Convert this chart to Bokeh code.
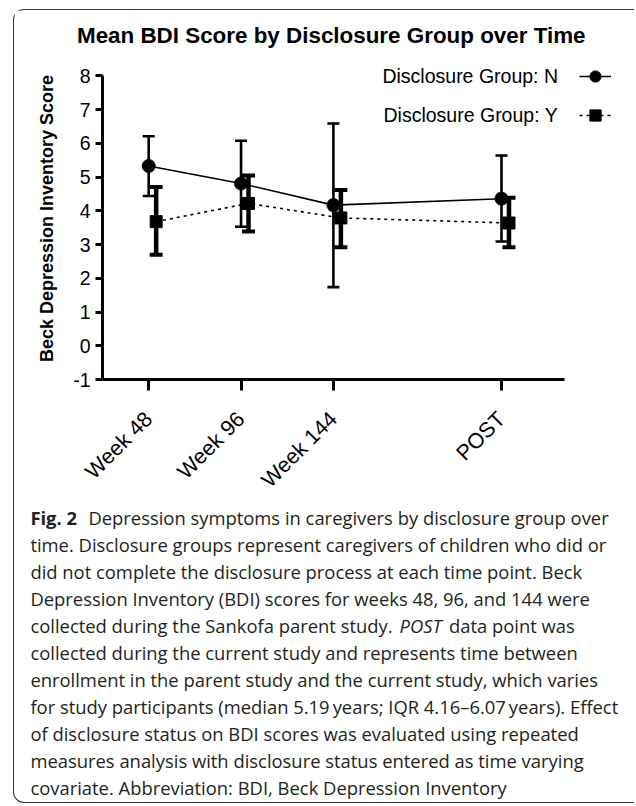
import math
from bokeh.plotting import figure
from bokeh.layouts import column
from bokeh.models import (ColumnDataSource, Whisker, TeeHead, Label, Legend, LegendItem,
                          FixedTicker, Range1d)
from bokeh.embed import file_html
from bokeh.resources import INLINE
from bokeh.core.properties import value

# ---------------- data ----------------
categories = ["Week 48", "Week 96", "Week 144", "POST"]
n_mean = [5.33, 4.81, 4.17, 4.36]
n_upper = [6.21, 6.08, 6.59, 5.64]
n_lower = [4.44, 3.53, 1.74, 3.09]
y_mean = [3.68, 4.22, 3.79, 3.64]
y_upper = [4.71, 5.05, 4.62, 4.39]
y_lower = [2.70, 3.39, 2.92, 2.92]
y_ticks = [-1, 0, 1, 2, 3, 4, 5, 6, 7, 8]

title_text = "Mean BDI Score by Disclosure Group over Time"
y_label = "Beck Depression Inventory Score"
legend_labels = ["Disclosure Group: N", "Disclosure Group: Y"]

# ---------------- layout constants ----------------
cat_pos = [1.0, 2.0, 3.0, 4.82]      # POST placed after a wider gap
y_shift = 0.081                       # group Y drawn slightly right of group N
FONT = "Liberation Sans"

n_x = list(cat_pos)
y_x = [c + y_shift for c in cat_pos]

src_n = ColumnDataSource(dict(x=n_x, m=n_mean, up=n_upper, lo=n_lower))
src_y = ColumnDataSource(dict(x=y_x, m=y_mean, up=y_upper, lo=y_lower))

CW = 620             # content width inside the rounded frame
H1 = 509             # chart part
OVERLAP = 30         # caption canvas slides up under the rotated tick labels
H2 = 792 - H1 + OVERLAP

p = figure(width=CW, height=H1, output_backend="svg", toolbar_location=None,
           x_range=Range1d(0.5, 6.26), y_range=Range1d(-1, 8.546),
           min_border_left=88, min_border_right=0, min_border_top=45, min_border_bottom=H1 - 369)
p.outline_line_color = None
p.grid.visible = False
p.background_fill_color = "white"
p.border_fill_color = "white"

# title
p.title.text = title_text
p.title.align = "left"
p.title.offset = -25.5
p.title.standoff = 20
p.title.text_font = FONT
p.title.text_font_size = "22.4px"
p.title.text_font_style = "bold"
p.title.text_color = "black"

# axes
xa = p.xaxis[0]
xa.bounds = (0.5, 5.5)
xa.ticker = FixedTicker(ticks=cat_pos)
xa.major_label_overrides = {c: lab for c, lab in zip(cat_pos, categories)}
xa.major_label_orientation = math.pi / 4
xa.axis_line_width = 3
xa.major_tick_line_width = 3
xa.major_tick_out = 11
xa.major_tick_in = 0
xa.minor_tick_line_color = None
xa.major_label_text_font = FONT
xa.major_label_text_font_size = "21.5px"
xa.major_label_text_color = "black"
xa.major_label_standoff = 25

ya = p.yaxis[0]
ya.bounds = (-1, 8)
ya.ticker = FixedTicker(ticks=y_ticks)
ya.major_label_overrides = {t: str(t) for t in y_ticks}
ya.axis_line_width = 3
ya.major_tick_line_width = 3
ya.major_tick_out = 7
ya.major_tick_in = 0
ya.minor_tick_line_color = None
ya.major_label_text_font = FONT
ya.major_label_text_font_size = "19.5px"
ya.major_label_text_color = "black"
ya.major_label_standoff = 5
ya.axis_label = y_label
ya.axis_label_text_font = FONT
ya.axis_label_text_font_size = "18px"
ya.axis_label_text_font_style = "bold"
ya.axis_label_text_color = "black"
ya.axis_label_standoff = 13

# error bars
wn = Whisker(base="x", upper="up", lower="lo", source=src_n, line_width=2.6, line_color="black",
             upper_head=TeeHead(size=12, line_width=2.6, line_color="black"),
             lower_head=TeeHead(size=12, line_width=2.6, line_color="black"))
wy = Whisker(base="x", upper="up", lower="lo", source=src_y, line_width=4.5, line_color="black",
             upper_head=TeeHead(size=13, line_width=4, line_color="black"),
             lower_head=TeeHead(size=13, line_width=4, line_color="black"))
p.add_layout(wn)
p.add_layout(wy)

# lines and markers
ln = p.line("x", "m", source=src_n, line_color="black", line_width=1.6)
mn = p.scatter("x", "m", source=src_n, marker="circle", size=13, fill_color="black", line_color="black")
ly = p.line("x", "m", source=src_y, line_color="black", line_width=1.6, line_dash="3 4")
my = p.scatter("x", "m", source=src_y, marker="square", size=12, fill_color="black", line_color="black")

# legend glyphs (text drawn separately, to the left of the glyphs)
leg = Legend(items=[LegendItem(label=value(""), renderers=[ln, mn]),
                    LegendItem(label=value(""), renderers=[ly, my])],
             location=(476.5, 250.5), glyph_width=32, glyph_height=28, label_height=28,
             label_width=0, label_standoff=0, spacing=11, padding=0, margin=0,
             border_line_color=None, background_fill_alpha=0)
p.add_layout(leg, "center")

for txt, cy in zip(legend_labels, [65.2, 104.5]):
    p.add_layout(Label(x=543.5, y=cy, x_units="canvas", y_units="canvas", text=txt,
                       text_font=FONT, text_font_size="19.5px", text_color="black",
                       text_align="right", text_baseline="middle"))

# ---------------- caption ----------------
c = figure(width=CW, height=H2, output_backend="svg", toolbar_location=None,
           x_range=Range1d(0, CW), y_range=Range1d(H2, 0),
           x_axis_type=None, y_axis_type=None,
           min_border_left=0, min_border_right=0, min_border_top=0, min_border_bottom=0,
           styles={"margin-top": f"-{OVERLAP}px"})
c.outline_line_color = None
c.grid.visible = False
c.background_fill_alpha = 0
c.border_fill_alpha = 0
for fig in (p, c):
    if "frame_align" in fig.properties():
        fig.frame_align = False

CAP_FONT = "Open Sans"
CAP_SIZE = "18.4px"
CAP_COLOR = "#231f20"
cap_lines = [
    [("Fig. 2", "bold"), ("Depression symptoms in caregivers by disclosure group over", "normal")],
    [("time. Disclosure groups represent caregivers of children who did or", "normal")],
    [("did not complete the disclosure process at each time point. Beck", "normal")],
    [("Depression Inventory (BDI) scores for weeks 48, 96, and 144 were", "normal")],
    [("collected during the Sankofa parent study.", "normal"), ("POST", "italic"), ("data point was", "normal")],
    [("collected during the current study and represents time between", "normal")],
    [("enrollment in the parent study and the current study, which varies", "normal")],
    [("for study participants (median 5.19\u2009years; IQR 4.16\u20136.07\u2009years). Effect", "normal")],
    [("of disclosure status on BDI scores was evaluated using repeated", "normal")],
    [("measures analysis with disclosure status entered as time varying", "normal")],
    [("covariate. Abbreviation: BDI, Beck Depression Inventory", "normal")],
]
seg_x = {(0, 1): 73.9, (4, 1): 385.1, (4, 2): 434.5}
x0, y0, dy = 15.9, 27.5, 27.0
for i, segs in enumerate(cap_lines):
    for j, (txt, style) in enumerate(segs):
        x = seg_x.get((i, j), x0)
        c.add_layout(Label(x=x, y=y0 + i * dy, x_units="canvas", y_units="canvas", text=txt,
                           text_font=CAP_FONT, text_font_size=CAP_SIZE, text_font_style=style,
                           text_color=CAP_COLOR, text_baseline="middle"))

layout = column(p, c, spacing=0, margin=(9, 0, 0, 13),
                styles={"border": "1.5px solid #333333", "border-right": "none",
                        "border-radius": "11px 0 0 11px", "background": "white"})

open("out.html", "w").write(file_html(layout, INLINE))
